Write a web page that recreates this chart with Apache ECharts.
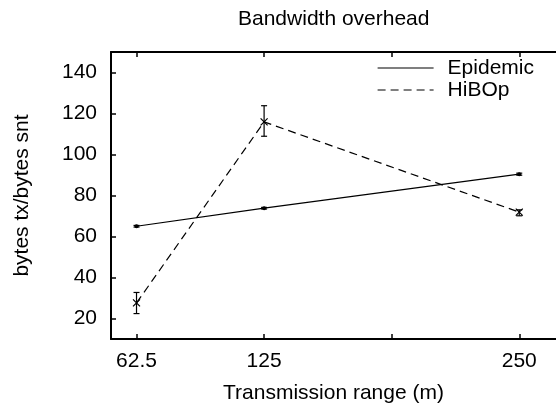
<!DOCTYPE html>
<html>
<head>
<meta charset="utf-8">
<script src="https://cdn.jsdelivr.net/npm/echarts@6/dist/echarts.min.js"></script>
<style>
  html, body { margin: 0; padding: 0; background: #fff; }
  #chart { width: 556px; height: 409px; }
</style>
</head>
<body>
<div id="chart"></div>
<script>
// Values.
const ranges = [62.5, 125, 250];
const epidemic = [65.0, 73.8, 90.4];
const epidemicLow = [64.6, 73.4, 89.9];
const epidemicHigh = [65.4, 74.2, 90.9];
const hibop = [27.6, 115.9, 71.9];
const hibopLow = [22.4, 108.9, 70.1];
const hibopHigh = [32.7, 123.8, 73.0];
const xTicks = [62.5, 125, 187.5, 250];
const xLabels = [62.5, 125, 250];
const yTicks = [20, 40, 60, 80, 100, 120, 140];

const FONT = '"Liberation Sans", Arial, Helvetica, sans-serif';
const pairs = (xs, ys) => xs.map((x, i) => [x, ys[i]]);
const errRows = (lo, hi) => ranges.map((x, i) => [x, lo[i], hi[i]]);

// vertical error bar with small caps
function errorBar(params, api) {
  const x = api.value(0);
  const lo = api.coord([x, api.value(1)]);
  const hi = api.coord([x, api.value(2)]);
  const cap = 3;
  const style = { stroke: '#000', lineWidth: 1.2, fill: null };
  return {
    type: 'group',
    children: [
      { type: 'line', shape: { x1: lo[0], y1: lo[1], x2: hi[0], y2: hi[1] }, style },
      { type: 'line', shape: { x1: lo[0] - cap, y1: lo[1], x2: lo[0] + cap, y2: lo[1] }, style },
      { type: 'line', shape: { x1: hi[0] - cap, y1: hi[1], x2: hi[0] + cap, y2: hi[1] }, style },
    ],
  };
}

const chart = echarts.init(document.getElementById('chart'), null, { renderer: 'canvas' });
const axisLine = { show: true, onZero: false, lineStyle: { color: '#000', width: 2 } };
const tick = (vals) => ({ show: true, inside: true, length: 5, customValues: vals, lineStyle: { color: '#000', width: 1.5 } });

chart.setOption({
  animation: false,
  backgroundColor: '#fff',
  textStyle: { fontFamily: FONT },
  title: {
    text: 'Bandwidth overhead', left: 238, top: 9, padding: 0,
    textStyle: { fontFamily: FONT, fontSize: 21, fontWeight: 'normal', color: '#000' },
  },
  legend: {
    orient: 'vertical', left: 377, top: 57, padding: 0,
    itemWidth: 56, itemHeight: 14, itemGap: 0,
    itemStyle: { opacity: 0 },
    lineStyle: { width: 1.2 },
    textStyle: { fontFamily: FONT, fontSize: 21, color: '#000', lineHeight: 22, padding: [0, 0, 0, 9] },
    data: ['Epidemic', 'HiBOp'],
  },
  grid: { left: 111, top: 52, width: 449, height: 290 },
  xAxis: [
    {
      type: 'value', min: 50, max: 268, position: 'bottom',
      axisLine, axisTick: tick(xTicks), splitLine: { show: false },
      axisLabel: { customValues: xLabels, margin: 12, fontFamily: FONT, fontSize: 21, color: '#000' },
      name: 'Transmission range (m)', nameLocation: 'middle', nameGap: 44,
      nameTextStyle: { fontFamily: FONT, fontSize: 21, color: '#000' },
    },
    {
      type: 'value', min: 50, max: 268, position: 'top',
      axisLine, axisTick: tick(xTicks), splitLine: { show: false },
      axisLabel: { show: false },
    },
  ],
  yAxis: {
    type: 'value', min: 10, max: 150,
    axisLine, axisTick: tick(yTicks), splitLine: { show: false },
    axisLabel: { customValues: yTicks, margin: 14, fontFamily: FONT, fontSize: 21, color: '#000' },
    name: 'bytes tx/bytes snt', nameLocation: 'middle', nameGap: 78, nameRotate: 90,
    nameTextStyle: { fontFamily: FONT, fontSize: 21, color: '#000' },
  },
  series: [
    {
      name: 'Epidemic', type: 'line', data: pairs(ranges, epidemic),
      symbol: 'circle', symbolSize: 4,
      itemStyle: { color: '#000' },
      lineStyle: { color: '#000', width: 1.2 },
    },
    {
      name: 'HiBOp', type: 'line', data: pairs(ranges, hibop),
      symbol: 'path://M0,0L10,10M10,0L0,10', symbolSize: 7,
      itemStyle: { color: 'none', borderColor: '#000', borderWidth: 1.2 },
      lineStyle: { color: '#000', width: 1.2, type: [8, 5] },
    },
    { type: 'custom', renderItem: errorBar, data: errRows(epidemicLow, epidemicHigh), z: 3 },
    { type: 'custom', renderItem: errorBar, data: errRows(hibopLow, hibopHigh), z: 3 },
  ],
});
</script>
</body>
</html>
